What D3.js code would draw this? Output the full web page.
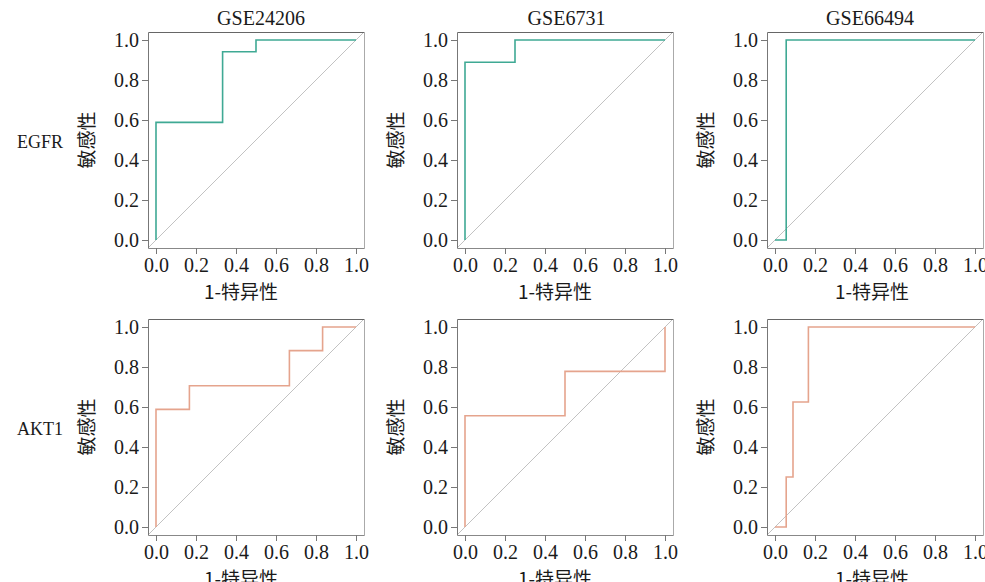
<!DOCTYPE html>
<html>
<head>
<meta charset="utf-8">
<script src="https://cdn.jsdelivr.net/npm/d3@7"></script>
<style>
  html, body { margin: 0; padding: 0; background: #fff; }
  svg { display: block; }
  svg text.serif { font-family: "Liberation Serif", "DejaVu Serif", "Times New Roman", Times, serif; font-size: 20px; fill: #1a1a1a; }
  svg text.cjk { font-family: "Noto Sans CJK SC", sans-serif; font-size: 19px; fill: #1a1a1a; }
</style>
</head>
<body>
<svg id="chart" width="985" height="582"></svg>
<script>
// Datasets (columns) and genes (rows)
const datasets = ["GSE24206", "GSE6731", "GSE66494"];
const genes = ["EGFR", "AKT1"];
const tickValues = [0, 0.2, 0.4, 0.6, 0.8, 1.0];

// ROC step curves: 1-specificity (fpr) and sensitivity (tpr)
const egfrGSE24206Fpr = [0, 0, 0.333, 0.333, 0.5, 0.5, 1];
const egfrGSE24206Tpr = [0, 0.588, 0.588, 0.941, 0.941, 1, 1];
const egfrGSE6731Fpr = [0, 0, 0.25, 0.25, 1];
const egfrGSE6731Tpr = [0, 0.889, 0.889, 1, 1];
const egfrGSE66494Fpr = [0, 0.056, 0.056, 1];
const egfrGSE66494Tpr = [0, 0, 1, 1];
const akt1GSE24206Fpr = [0, 0, 0.167, 0.167, 0.667, 0.667, 0.833, 0.833, 1];
const akt1GSE24206Tpr = [0, 0.588, 0.588, 0.706, 0.706, 0.882, 0.882, 1, 1];
const akt1GSE6731Fpr = [0, 0, 0.5, 0.5, 1, 1];
const akt1GSE6731Tpr = [0, 0.556, 0.556, 0.778, 0.778, 1];
const akt1GSE66494Fpr = [0, 0.056, 0.056, 0.09, 0.09, 0.167, 0.167, 1];
const akt1GSE66494Tpr = [0, 0, 0.25, 0.25, 0.625, 0.625, 1, 1];

const curves = [
  [[egfrGSE24206Fpr, egfrGSE24206Tpr], [egfrGSE6731Fpr, egfrGSE6731Tpr], [egfrGSE66494Fpr, egfrGSE66494Tpr]],
  [[akt1GSE24206Fpr, akt1GSE24206Tpr], [akt1GSE6731Fpr, akt1GSE6731Tpr], [akt1GSE66494Fpr, akt1GSE66494Tpr]]
];
const rowColors = ["#3fa994", "#e5a48d"];

// Panel frame layout
const colLeft = [148, 457, 767];
const rowTop = [32, 319];
const boxW = 216, boxH = 216;
const titleShift = [5, 1.5, -5];
const xLabelShift = [-15, -10, -3];
const serifFont = '"Liberation Serif", "DejaVu Serif", "Times New Roman", Times, serif';

const svg = d3.select("#chart");

genes.forEach((gene, r) => {
  const top = rowTop[r];
  // row label
  svg.append("text").attr("class", "serif")
    .attr("font-family", serifFont)
    .attr("x", 63).attr("y", top + 116)
    .attr("text-anchor", "end").style("font-size", "18px")
    .text(gene);

  datasets.forEach((ds, c) => {
    const left = colLeft[c];
    const x = d3.scaleLinear().domain([-0.04, 1.04]).range([left, left + boxW]);
    const y = d3.scaleLinear().domain([-0.04, 1.04]).range([top + boxH, top]);
    const g = svg.append("g");

    // diagonal reference
    g.append("line")
      .attr("x1", x(-0.04)).attr("y1", y(-0.04))
      .attr("x2", x(1.04)).attr("y2", y(1.04))
      .attr("stroke", "#c2c2c2").attr("stroke-width", 1);

    // ROC curve
    const [fpr, tpr] = curves[r][c];
    const pts = fpr.map((v, i) => [v, tpr[i]]);
    g.append("path")
      .attr("d", d3.line().x(d => x(d[0])).y(d => y(d[1]))(pts))
      .attr("fill", "none")
      .attr("stroke", rowColors[r])
      .attr("stroke-width", 1.6);

    // frame
    const x0 = left + 0.5, x1 = left + boxW + 0.5, y0 = top + 0.5, y1 = top + boxH + 0.5;
    g.append("line").attr("x1", x0).attr("x2", x1).attr("y1", y0).attr("y2", y0).attr("stroke", "#666");
    g.append("line").attr("x1", x1).attr("x2", x1).attr("y1", y0).attr("y2", y1).attr("stroke", "#aaa");
    g.append("line").attr("x1", x0).attr("x2", x0).attr("y1", y0).attr("y2", y1).attr("stroke", "#777");
    g.append("line").attr("x1", x0).attr("x2", x1).attr("y1", y1).attr("y2", y1).attr("stroke", "#888");

    // axes
    const xAxis = d3.axisBottom(x).tickValues(tickValues).tickFormat(d3.format(".1f")).tickSize(6).tickSizeOuter(0);
    const yAxis = d3.axisLeft(y).tickValues(tickValues).tickFormat(d3.format(".1f")).tickSize(6).tickSizeOuter(0);
    const gx = g.append("g").attr("transform", `translate(0,${top + boxH})`).call(xAxis);
    const gy = g.append("g").attr("transform", `translate(${left},0)`).call(yAxis);
    [gx, gy].forEach(a => {
      a.attr("font-family", serifFont).attr("font-size", 20);
      a.select(".domain").remove();
      a.selectAll(".tick line").attr("stroke", "#777");
      a.selectAll(".tick text").attr("class", "serif").attr("fill", "#1a1a1a");
    });
    gx.selectAll(".tick text").attr("dy", "0.71em").attr("y", 10);
    gy.selectAll(".tick text").attr("x", -9);

    // column title (top row only)
    if (r === 0) {
      g.append("text").attr("class", "serif")
        .attr("font-family", serifFont)
        .attr("x", left + boxW / 2 + titleShift[c]).attr("y", top - 7)
        .attr("text-anchor", "middle").text(ds);
    }

    // x label
    g.append("text").attr("class", "cjk")
      .attr("x", left + boxW / 2 + xLabelShift[c]).attr("y", top + boxH + 51)
      .attr("text-anchor", "middle").text("1-特异性");

    // y label
    g.append("text").attr("class", "cjk")
      .attr("transform", `translate(${left - 54},${top + boxH / 2}) rotate(-90)`)
      .attr("text-anchor", "middle").text("敏感性");
  });
});
</script>
</body>
</html>
